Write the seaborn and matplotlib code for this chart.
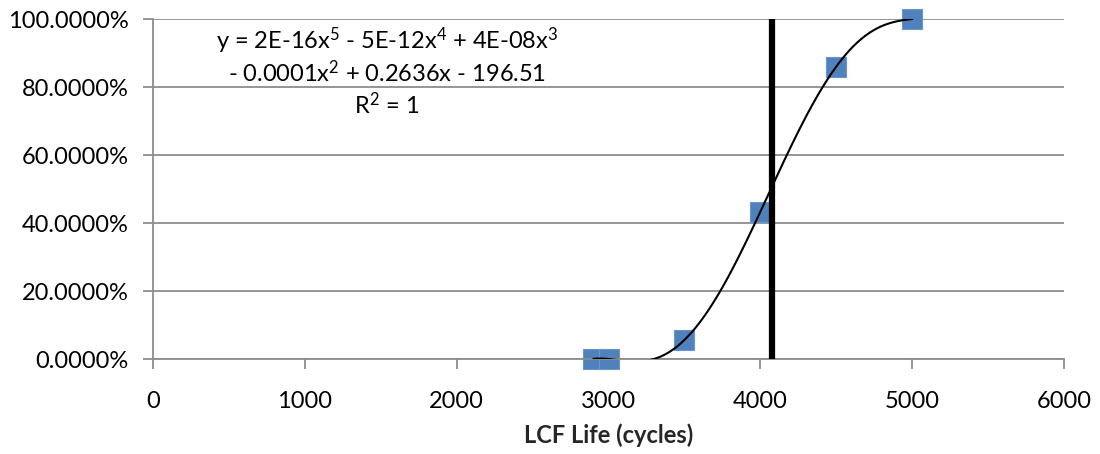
import numpy as np
import pandas as pd
import matplotlib
matplotlib.use("Agg")
import matplotlib.pyplot as plt
from matplotlib.ticker import PercentFormatter
import seaborn as sns

# Data
lcf_life = [2900, 3000, 3500, 4000, 4500, 5000]
cum_fraction = [0.0, 0.0, 0.056, 0.433, 0.860, 1.0]
threshold_life = 4075
x_ticks = [0, 1000, 2000, 3000, 4000, 5000, 6000]
y_ticks = [0.0, 0.2, 0.4, 0.6, 0.8, 1.0]
equation_lines = ["y = 2E-16x$^{5}$ - 5E-12x$^{4}$ + 4E-08x$^{3}$",
                  "- 0.0001x$^{2}$ + 0.2636x - 196.51",
                  "R$^{2}$ = 1"]
x_label = "LCF Life (cycles)"

sns.set_theme(style="white")
plt.rcParams['font.family'] = ['Lato', 'DejaVu Sans']
plt.rcParams['mathtext.fontset'] = 'custom'
plt.rcParams['mathtext.rm'] = 'Lato'
plt.rcParams['mathtext.it'] = 'Lato:italic'
plt.rcParams['mathtext.bf'] = 'Lato:bold'
plt.rcParams['mathtext.default'] = 'rm'

df = pd.DataFrame({"life": lcf_life, "frac": cum_fraction})

fig = plt.figure(figsize=(11, 4.54), dpi=100)
ax = fig.add_axes([153/1100, 1 - 359/454, (1064 - 153)/1100, (359 - 19)/454])

grid_col = "#8c8c8c"
for yv in y_ticks:
    ax.axhline(yv, color=grid_col, lw=1.3, zorder=0)

# polynomial trendline (order 5)
coefs = np.polyfit(df["life"], df["frac"], 5)
xs = np.linspace(min(lcf_life), max(lcf_life), 400)
sns.lineplot(x=xs, y=np.polyval(coefs, xs), ax=ax, color="black", lw=1.5, zorder=3)

sns.scatterplot(data=df, x="life", y="frac", ax=ax, marker="s", s=200,
                color="#4f81bd", edgecolor="#6a96cc", linewidth=0.8, zorder=2)
for coll in ax.collections:
    coll.set_clip_on(False)

ax.axvline(threshold_life, color="black", lw=4.5, zorder=4)

ax.set_xlim(0, 6000)
ax.set_ylim(0, 1)
ax.set_xticks(x_ticks)
ax.set_yticks(y_ticks)
ax.yaxis.set_major_formatter(PercentFormatter(xmax=1, decimals=4))

for s in ["top", "right"]:
    ax.spines[s].set_visible(False)
for s in ["left", "bottom"]:
    ax.spines[s].set_color(grid_col)
    ax.spines[s].set_linewidth(1.3)
ax.spines["left"].set_zorder(1)

ax.tick_params(axis="both", which="major", direction="out", length=7, width=1.3,
               color=grid_col, labelsize=17, labelcolor="black")
ax.tick_params(axis="y", pad=10.5)
ax.tick_params(axis="x", pad=16)
ax.tick_params(left=True, bottom=True)

ax.set_xlabel(x_label, fontsize=17, fontweight="bold", labelpad=8)
ax.set_ylabel("")

for i, line in enumerate(equation_lines):
    ax.text(1540, 0.935 - i * 0.094, line, ha="center", va="center",
            fontsize=17, color="black", zorder=5)

fig.savefig("out.png", dpi=100)
